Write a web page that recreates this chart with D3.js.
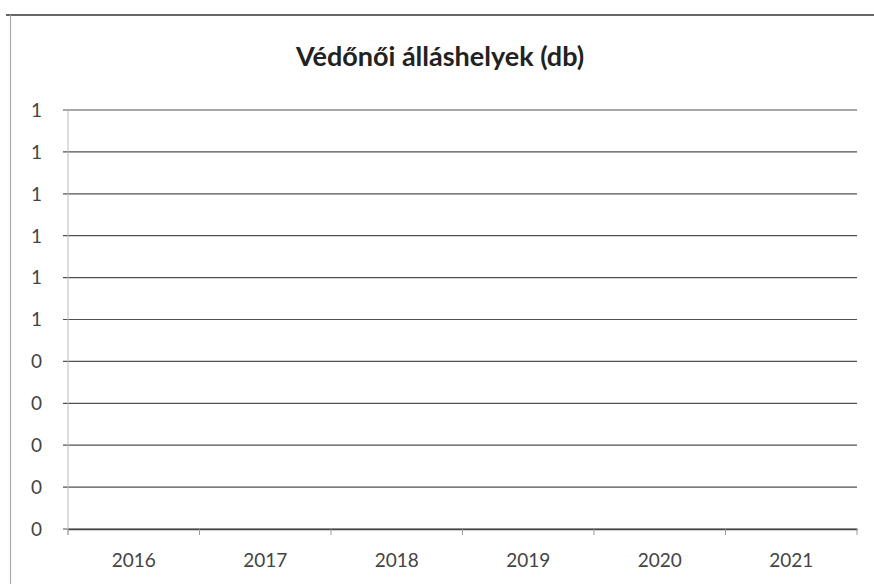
<!DOCTYPE html>
<html><head><meta charset="utf-8">
<script src="https://cdn.jsdelivr.net/npm/d3@7"></script>
<style>html,body{margin:0;padding:0;background:#fff;}svg{display:block;}</style>
</head><body>
<script>
const title = "Védőnői álláshelyek (db)";
const categories = ["2016","2017","2018","2019","2020","2021"];
const values = [null,null,null,null,null,null];
const tickValues = [0,0.1,0.2,0.3,0.4,0.5,0.6,0.7,0.8,0.9,1.0];
const tickLabels = ["0","0","0","0","0","1","1","1","1","1","1"];

const W = 874, H = 584;
const m = {left:68, right:17, top:110, bottom:55};
const FONT = "Lato, 'Open Sans', sans-serif";
const svg = d3.select("body").append("svg").attr("width",W).attr("height",H);
svg.append("rect").attr("width",W).attr("height",H).attr("fill","#fff");
// chart border (scanned frame)
svg.append("line").attr("x1",6).attr("x2",W).attr("y1",15).attr("y2",15).attr("stroke","#666").attr("stroke-width",2);
svg.append("line").attr("x1",10.5).attr("x2",10.5).attr("y1",15).attr("y2",H).attr("stroke","#aaa").attr("stroke-width",1.2);

const x = d3.scaleBand().domain(categories).range([m.left, W-m.right]);
const y = d3.scaleLinear().domain([0,1]).range([H-m.bottom, m.top]);

// gridlines
svg.append("g").selectAll("line").data(tickValues).join("line")
  .attr("x1",m.left-5).attr("x2",W-m.right)
  .attr("y1",d=>y(d)).attr("y2",d=>y(d))
  .attr("stroke","#505050").attr("stroke-width",1.2);

// y axis line
svg.append("line").attr("x1",m.left).attr("x2",m.left).attr("y1",m.top).attr("y2",H-m.bottom+6)
  .attr("stroke","#bbb").attr("stroke-width",1);

// y labels
svg.append("g").selectAll("text").data(tickValues).join("text")
  .attr("x",42).attr("y",d=>y(d)).attr("dy","0.36em").attr("text-anchor","end")
  .attr("font-family",FONT).attr("font-size",19)
  .attr("fill","#444").text((d,i)=>tickLabels[i]);

// x axis
const xAxis = d3.axisBottom(x).tickSize(0).tickSizeOuter(0);
const gx = svg.append("g").attr("transform",`translate(0,${H-m.bottom})`).call(xAxis);
gx.select(".domain").attr("stroke","#444").attr("stroke-width",1.4);
gx.selectAll("text").attr("font-family",FONT).attr("font-size",19)
  .attr("fill","#444").attr("dy","0").attr("y",38);
// category boundary ticks
const bounds = categories.map(c=>x(c)).concat([x(categories[categories.length-1])+x.bandwidth()]);
svg.append("g").selectAll("line").data(bounds).join("line")
  .attr("x1",d=>d).attr("x2",d=>d).attr("y1",H-m.bottom).attr("y2",H-m.bottom+6)
  .attr("stroke","#999").attr("stroke-width",1);

// series (empty)
const line = d3.line().defined(d=>d!=null).x((d,i)=>x(categories[i])+x.bandwidth()/2).y(d=>y(d));
svg.append("path").datum(values).attr("d",line).attr("fill","none").attr("stroke","#4472c4").attr("stroke-width",2);

// title
svg.append("text").attr("x",440).attr("y",66).attr("text-anchor","middle")
  .attr("font-family",FONT).attr("font-weight","bold").attr("font-size",27)
  .attr("fill","#222").text(title);
</script>
</body></html>
